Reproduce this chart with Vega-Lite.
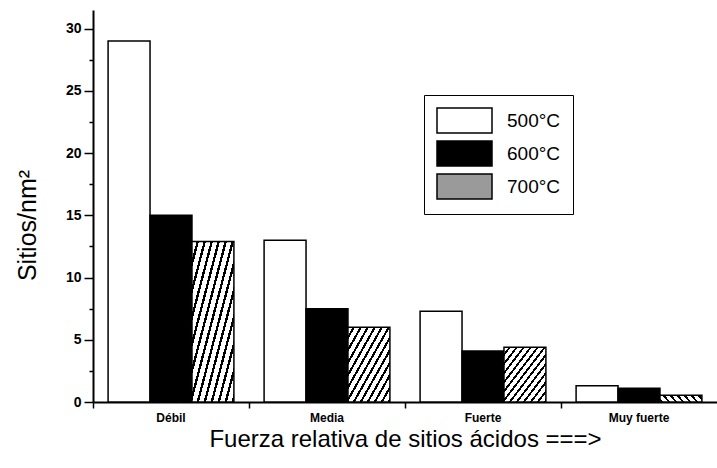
{
  "$schema": "https://vega.github.io/schema/vega-lite/v6.json",
  "autosize": {"type": "none"},
  "width": 624,
  "height": 392,
  "padding": {"left": 93, "top": 10, "right": 0, "bottom": 66},
  "background": "white",
  "data": {
    "values": [
      {"fuerza": "Débil", "temp": "500°C", "valor": 29.0},
      {"fuerza": "Débil", "temp": "600°C", "valor": 15.0},
      {"fuerza": "Débil", "temp": "700°C", "valor": 12.9},
      {"fuerza": "Media", "temp": "500°C", "valor": 13.0},
      {"fuerza": "Media", "temp": "600°C", "valor": 7.5},
      {"fuerza": "Media", "temp": "700°C", "valor": 6.0},
      {"fuerza": "Fuerte", "temp": "500°C", "valor": 7.3},
      {"fuerza": "Fuerte", "temp": "600°C", "valor": 4.1},
      {"fuerza": "Fuerte", "temp": "700°C", "valor": 4.4},
      {"fuerza": "Muy fuerte", "temp": "500°C", "valor": 1.3},
      {"fuerza": "Muy fuerte", "temp": "600°C", "valor": 1.1},
      {"fuerza": "Muy fuerte", "temp": "700°C", "valor": 0.55}
    ]
  },
  "mark": {"type": "bar", "stroke": "black", "strokeWidth": 1.5},
  "encoding": {
    "x": {
      "field": "fuerza",
      "type": "nominal",
      "sort": null,
      "scale": {"paddingInner": 0, "paddingOuter": 0},
      "axis": {
        "labelAngle": 0,
        "labelFont": "Liberation Sans",
        "labelFontSize": 12,
        "labelFontWeight": "bold",
        "labelColor": "black",
        "labelPadding": 4,
        "bandPosition": 0,
        "tickColor": "black",
        "tickWidth": 1.5,
        "tickSize": 6,
        "domainColor": "black",
        "domainWidth": 2,
        "title": "Fuerza relativa de sitios ácidos ===>",
        "titleFont": "Liberation Sans",
        "titleFontSize": 24,
        "titleFontWeight": "normal",
        "titleColor": "black",
        "titlePadding": 4
      }
    },
    "xOffset": {
      "field": "temp",
      "type": "nominal",
      "scale": {"paddingInner": 0, "paddingOuter": 0.36}
    },
    "y": {
      "field": "valor",
      "type": "quantitative",
      "scale": {"domain": [0, 31.5], "nice": false},
      "axis": {
        "values": [0, 2.5, 5, 7.5, 10, 12.5, 15, 17.5, 20, 22.5, 25, 27.5, 30],
        "labelExpr": "datum.value % 5 === 0 ? format(datum.value, 'd') : ''",
        "labelFont": "Liberation Sans",
        "labelFontSize": 14,
        "labelFontWeight": "bold",
        "labelColor": "black",
        "labelPadding": 3,
        "tickColor": "black",
        "tickWidth": 1.5,
        "tickSize": {"condition": {"test": "datum.value % 5 === 0", "value": 9}, "value": 4},
        "domainColor": "black",
        "domainWidth": 2,
        "grid": false,
        "title": "Sitios/nm²",
        "titleFont": "Liberation Sans",
        "titleFontSize": 25,
        "titleFontWeight": "normal",
        "titleColor": "black",
        "titlePadding": 25,
        "titleY": 215
      }
    },
    "fill": {
      "field": "temp",
      "type": "nominal",
      "condition": {
        "test": "datum.temp === '700°C'",
        "value": {
          "gradient": "linear",
          "x1": 0, "y1": 0, "x2": 1, "y2": 1,
          "stops": [
            {"offset": 0, "color": "white"}, {"offset": 0.055, "color": "white"}, {"offset": 0.055, "color": "black"}, {"offset": 0.0833, "color": "black"},
            {"offset": 0.0833, "color": "white"}, {"offset": 0.1383, "color": "white"}, {"offset": 0.1383, "color": "black"}, {"offset": 0.1667, "color": "black"},
            {"offset": 0.1667, "color": "white"}, {"offset": 0.2217, "color": "white"}, {"offset": 0.2217, "color": "black"}, {"offset": 0.25, "color": "black"},
            {"offset": 0.25, "color": "white"}, {"offset": 0.305, "color": "white"}, {"offset": 0.305, "color": "black"}, {"offset": 0.3333, "color": "black"},
            {"offset": 0.3333, "color": "white"}, {"offset": 0.3883, "color": "white"}, {"offset": 0.3883, "color": "black"}, {"offset": 0.4167, "color": "black"},
            {"offset": 0.4167, "color": "white"}, {"offset": 0.4717, "color": "white"}, {"offset": 0.4717, "color": "black"}, {"offset": 0.5, "color": "black"},
            {"offset": 0.5, "color": "white"}, {"offset": 0.555, "color": "white"}, {"offset": 0.555, "color": "black"}, {"offset": 0.5833, "color": "black"},
            {"offset": 0.5833, "color": "white"}, {"offset": 0.6383, "color": "white"}, {"offset": 0.6383, "color": "black"}, {"offset": 0.6667, "color": "black"},
            {"offset": 0.6667, "color": "white"}, {"offset": 0.7217, "color": "white"}, {"offset": 0.7217, "color": "black"}, {"offset": 0.75, "color": "black"},
            {"offset": 0.75, "color": "white"}, {"offset": 0.805, "color": "white"}, {"offset": 0.805, "color": "black"}, {"offset": 0.8333, "color": "black"},
            {"offset": 0.8333, "color": "white"}, {"offset": 0.8883, "color": "white"}, {"offset": 0.8883, "color": "black"}, {"offset": 0.9167, "color": "black"},
            {"offset": 0.9167, "color": "white"}, {"offset": 0.9717, "color": "white"}, {"offset": 0.9717, "color": "black"}, {"offset": 1, "color": "black"}
          ]
        }
      },
      "scale": {
        "domain": ["500°C", "600°C", "700°C"],
        "range": ["white", "black", "#9a9a9a"]
      },
      "legend": {
        "orient": "none",
        "legendX": 331,
        "legendY": 85,
        "title": null,
        "strokeColor": "black",
        "padding": 12,
        "symbolType": "M-1,-1H3.4V1H-1Z",
        "symbolSize": 625,
        "symbolOpacity": 1,
        "labelFont": "Liberation Sans",
        "labelFontSize": 19,
        "labelColor": "black",
        "labelOffset": 44,
        "rowPadding": 2
      }
    }
  },
  "config": {
    "view": {"stroke": null},
    "axis": {"labelOverlap": false}
  }
}
